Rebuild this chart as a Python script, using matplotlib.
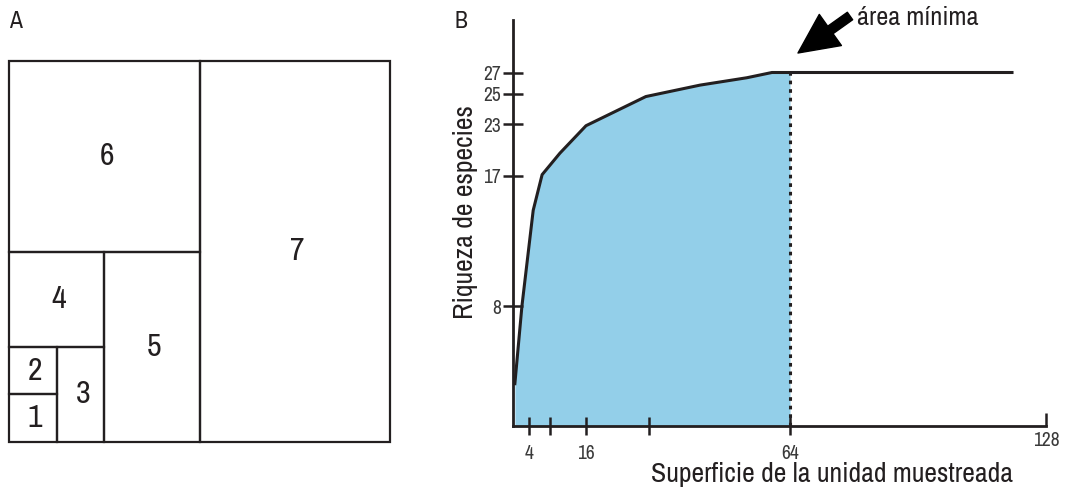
import numpy as np
import matplotlib.pyplot as plt
from matplotlib import font_manager
from matplotlib.patches import Rectangle

# the original uses a condensed face; take the narrowest one that is installed
fonts = font_manager.fontManager.ttflist
narrow = [f.name for f in fonts if 'Narrow' in f.name or 'Condensed' in f.name]
dv_cond = [f for f in fonts if f.name == 'DejaVu Sans' and f.stretch == 'condensed']
if narrow:
    plt.rcParams['font.family'] = [narrow[0], 'DejaVu Sans']
    NARROW = True
elif dv_cond:
    plt.rcParams['font.family'] = ['DejaVu Sans']
    plt.rcParams['font.stretch'] = 'condensed'
    NARROW = True
else:
    plt.rcParams['font.family'] = ['Roboto', 'DejaVu Sans']
    NARROW = False

# panel A: nested plots, in units of the smallest plot
plot_ids = ['1', '2', '3', '4', '5', '6', '7']
plot_x0 = [0, 0, 1, 0, 2, 0, 4]
plot_y0 = [0, 1, 0, 2, 0, 4, 0]
plot_w = [1, 1, 1, 2, 2, 4, 4]
plot_h = [1, 1, 2, 2, 4, 4, 8]

# panel B: species-area curve
area = [0.4, 2.2, 4.8, 6.5, 10.2, 16, 31.2, 43.6, 54.2, 59.9, 64, 119.5]
species = [2.8, 8, 14.6, 17.1, 19.6, 22.8, 24.8, 25.8, 26.5, 27, 27, 27]
min_area = 64
x_ticks = [4, 8, 16, 32, 64]
x_ticklabels = ['4', '', '16', '', '64']
y_ticks = [8, 17, 23, 25, 27]

# the original axes are hand drawn, not linear: piecewise scales
x_knots = [0, 4, 8, 16, 32, 64, 128]
x_pos = [0, 15.7, 36.7, 72.7, 135.7, 276.7, 532.7]
y_knots = [0, 8, 17, 23, 25, 27, 32]
y_pos = [0, 119.5, 250, 301.5, 332, 353, 405.5]

ink = '#231f20'
txt = '#3a3a3a'
blue = '#93cfe9'

fs_lab = 20 if NARROW else 16.5
fs_tick = 14 if NARROW else 12
fs_box = 23 if NARROW else 19
fs_note = 19 if NARROW else 15.5
fs_panel = 17 if NARROW else 15

W, H = 1065, 495
fig = plt.figure(figsize=(W / 100, H / 100), dpi=100)

# ---- A
axa = fig.add_axes([9 / W, (H - 442) / H, 381 / W, 381 / H])
axa.set_xlim(0, 8)
axa.set_ylim(0, 8)
axa.axis('off')
for lab, x0, y0, w, h in zip(plot_ids, plot_x0, plot_y0, plot_w, plot_h):
    axa.add_patch(Rectangle((x0, y0), w, h, fill=False, ec=ink, lw=1.6, clip_on=False))
    axa.text(x0 + w / 2 + 0.05, y0 + h / 2, lab, ha='center', va='center',
             fontsize=fs_box, color=ink)

fig.text(9 / W, 1 - 11 / H, 'A', va='top', ha='left', fontsize=fs_panel, color=ink)
fig.text(455 / W, 1 - 11 / H, 'B', va='top', ha='left', fontsize=fs_panel, color=ink)

# ---- B
ax = fig.add_axes([513.3 / W, (H - 425.5) / H, 532.7 / W, 405.5 / H])
ax.set_xscale('function', functions=(lambda v: np.interp(v, x_knots, x_pos),
                                     lambda p: np.interp(p, x_pos, x_knots)))
ax.set_yscale('function', functions=(lambda v: np.interp(v, y_knots, y_pos),
                                     lambda p: np.interp(p, y_pos, y_knots)))
ax.set_xlim(0, 128)
ax.set_ylim(0, 32)

a = np.array(area)
s = np.array(species)
m = a <= min_area
ax.fill_between(a[m], s[m], 0, color=blue, lw=0)
ax.plot(a, s, color=ink, lw=2.2, solid_joinstyle='round')
ax.plot([min_area, min_area], [0, 27], color=ink, lw=2.2, ls=(0, (1.2, 1.6)))

for sp in ['top', 'right']:
    ax.spines[sp].set_visible(False)
for sp in ['left', 'bottom']:
    ax.spines[sp].set_color(ink)
    ax.spines[sp].set_linewidth(2)

ax.set_xticks(x_ticks)
ax.set_xticklabels(x_ticklabels)
ax.set_xticks([128], minor=True)
ax.set_xticklabels(['128'], minor=True)
ax.set_yticks(y_ticks)
ax.set_yticks([], minor=True)
ax.tick_params(axis='x', which='major', direction='inout', length=13, width=1.8,
               color=ink, labelcolor=txt, labelsize=fs_tick, pad=6.5)
ax.tick_params(axis='x', which='minor', direction='in', length=9.5, width=1.8,
               color=ink, labelcolor=txt, labelsize=fs_tick, pad=4)
ax.tick_params(axis='y', which='major', direction='inout', length=14, width=1.8,
               color=ink, labelcolor=txt, labelsize=fs_tick, pad=2)

ax.set_xlabel('Superficie de la unidad muestreada', fontsize=fs_lab, color=ink)
ax.xaxis.set_label_coords(0.598, -0.09)
ax.xaxis.label.set_va('top')
ax.set_ylabel('Riqueza de especies', fontsize=fs_lab, color=ink)
ax.yaxis.set_label_coords(-0.066, 0.5265)

ax.annotate('', xy=(798, H - 53), xycoords='figure pixels',
            xytext=(850, H - 16), textcoords='figure pixels',
            arrowprops=dict(arrowstyle='simple,head_length=1.3,head_width=1.25,tail_width=0.3',
                            mutation_scale=22, color='black', shrinkA=0, shrinkB=0))
fig.text(857 / W, 1 - 25 / H, 'área mínima', va='baseline', ha='left',
         fontsize=fs_note, color=ink)

fig.savefig('out.png', dpi=100)
